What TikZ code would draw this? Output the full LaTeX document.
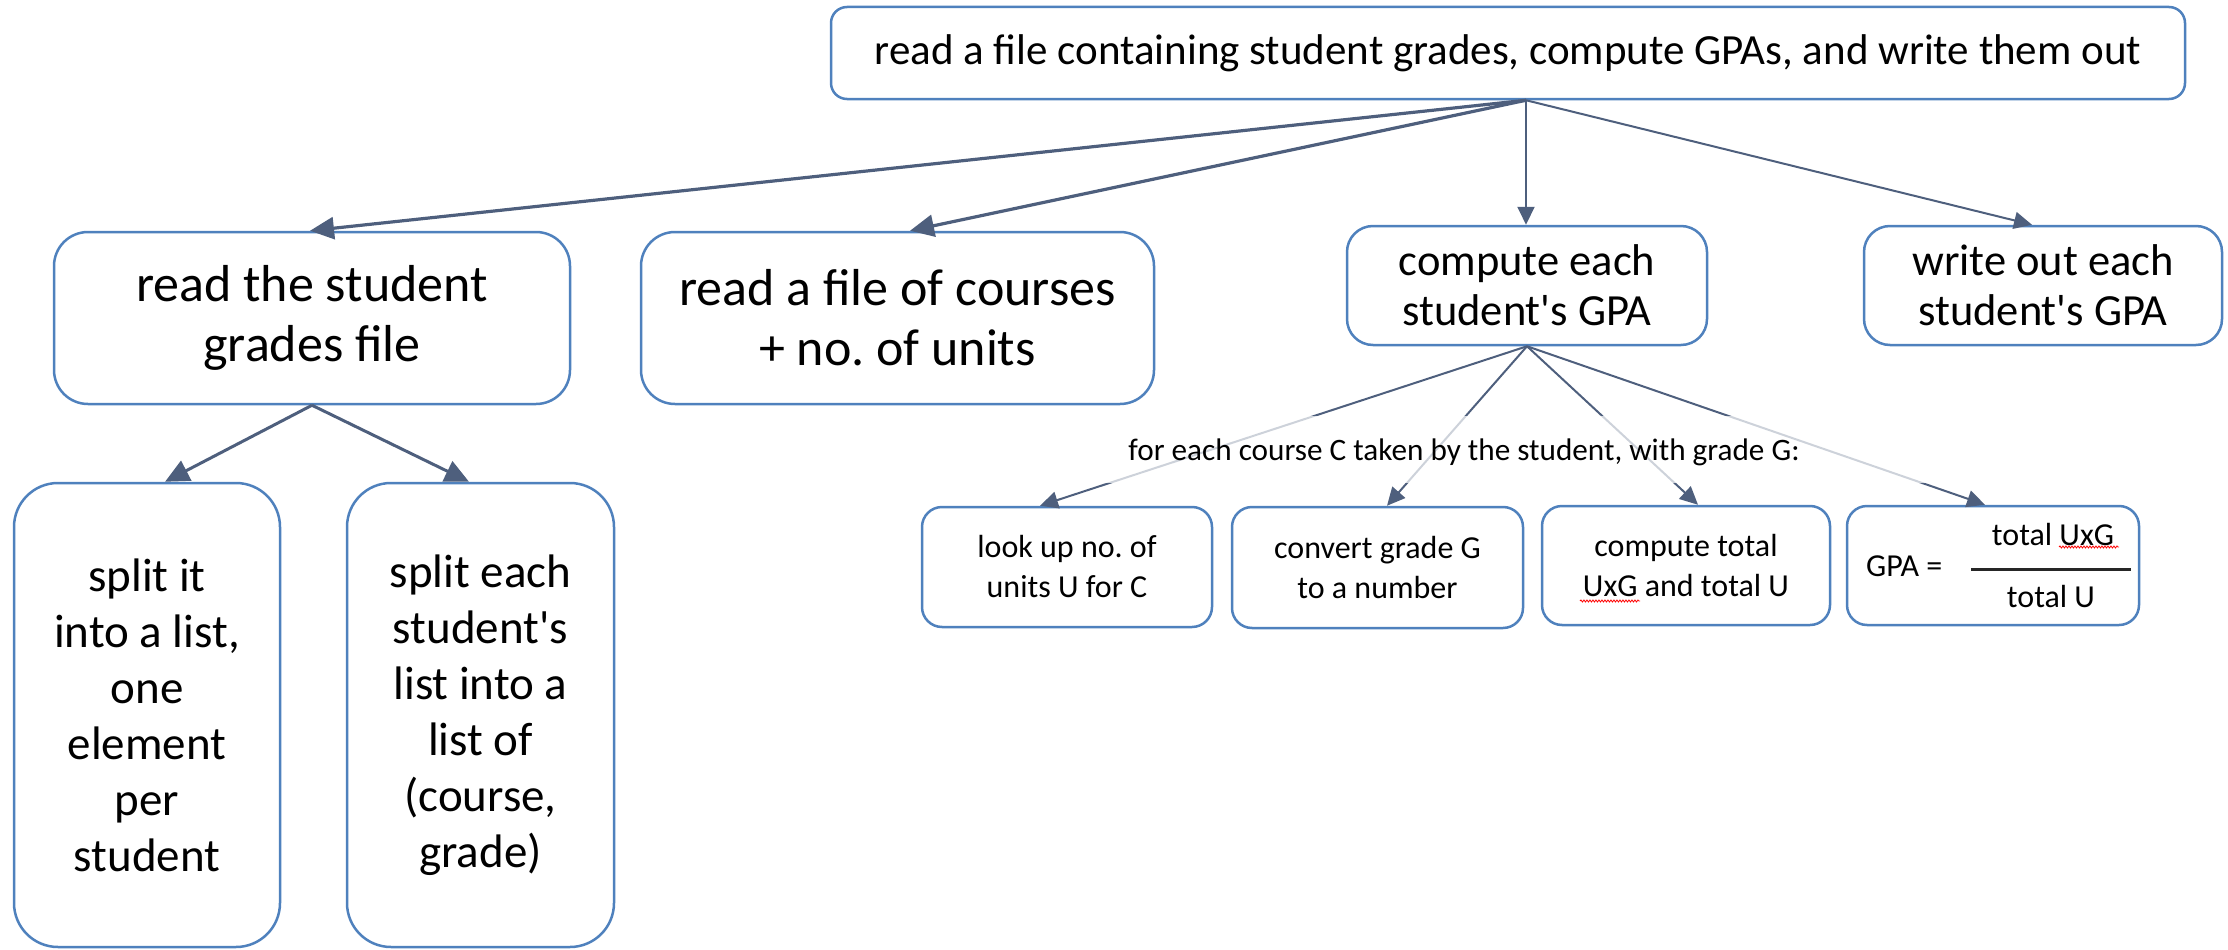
\documentclass[tikz,border=0pt]{standalone}
\usepackage{fontspec}
\setmainfont{Carlito}
\frenchspacing
\usetikzlibrary{arrows.meta,decorations.pathmorphing}
\definecolor{boxline}{HTML}{4F81BD}
\definecolor{connc}{HTML}{4E5F7D}
\newcommand{\apos}{\textquotesingle}
\begin{document}
\begin{tikzpicture}[x=1pt,y=-1pt,
  box/.style={draw=boxline, line width=2.5pt, fill=white, align=center, inner sep=0pt},
  bigtip/.style={-{Triangle[length=24pt,width=22pt]}},
  smalltip/.style={-{Triangle[length=18pt,width=17pt]}},
  conn/.style={draw=connc, line width=#1},
  txtA/.style={font=\fontsize{52}{60}\selectfont},
  txtC/.style={font=\fontsize{44.5}{50}\selectfont},
  txtE/.style={font=\fontsize{47}{56}\selectfont},
  txtS/.style={font=\fontsize{32}{40}\selectfont},
  spell/.style={draw=red, line width=0.8pt, decorate, decoration={snake, amplitude=1pt, segment length=3pt}}
]
\useasboundingbox (0,0) rectangle (2228,950);

% top task
\node[box, rounded corners=16pt, minimum width=1354pt, minimum height=92pt,
      font=\fontsize{43}{52}\selectfont] (top) at (1508,53)
  {read a file containing student grades, compute GPAs, and write them out};

% second level
\node[box, txtA, rounded corners=34pt, minimum width=516pt, minimum height=172pt] (A) at (312,318)
  {read the student\\grades file};
\node[box, txtA, rounded corners=34pt, minimum width=513pt, minimum height=172pt] (B) at (897.5,318)
  {read a file of courses\\+ no. of units};
\node[box, txtC, rounded corners=26pt, minimum width=360pt, minimum height=119pt] (C) at (1527,285.5)
  {compute each\\student\apos s GPA};
\node[box, txtC, rounded corners=26pt, minimum width=358pt, minimum height=119pt] (D) at (2043,285.5)
  {write out each\\student\apos s GPA};

% third level, left
\node[box, txtE, rounded corners=44pt, minimum width=266pt, minimum height=464pt] (E) at (147,715)
  {split it\\into a list,\\one\\element\\per\\student};
\node[box, txtE, rounded corners=44pt, minimum width=267pt, minimum height=464pt] (F) at (480.5,715)
  {split each\\student\apos s\\list into a\\list of\\(course,\\grade)};

% third level, right
\node[box, txtS, rounded corners=20pt, minimum width=290pt, minimum height=120pt] (G) at (1067,567)
  {look up no. of\\units U for C};
\node[box, txtS, rounded corners=20pt, minimum width=291pt, minimum height=121pt] (H) at (1377.5,567.5)
  {convert grade G\\to a number};
\node[box, txtS, rounded corners=20pt, minimum width=288pt, minimum height=119pt] (I) at (1686,565.5)
  {compute total\\UxG and total U};
\node[box, rounded corners=20pt, minimum width=292pt, minimum height=119pt] (J) at (1993,565.5) {};
\node[txtS, anchor=west, inner sep=0pt] (gpa) at (1866,566) {GPA =};
\node[txtS, inner sep=0pt] (num) at (2053,535) {total UxG};
\node[txtS, inner sep=0pt] (den) at (2051,597) {total U};
\draw[line width=3pt, black!85] (1971,569) -- (2131,569);

% connectors from the top task
\coordinate (hub) at (1526,0 |- top.south);
\draw[conn=3.2pt, bigtip] (hub) -- (310,0 |- A.north);
\draw[conn=3.2pt, bigtip] (hub) -- (910,0 |- B.north);
\draw[conn=2pt, smalltip] (hub) -- (1526,0 |- C.north);
\draw[conn=2pt, smalltip] (hub) -- (2032,0 |- D.north);

% connectors under the student grades file
\draw[conn=3pt, bigtip] (A.south) -- (165,0 |- E.north);
\draw[conn=3pt, bigtip] (A.south) -- (469,0 |- F.north);

% connectors under the GPA computation
\draw[conn=2pt, smalltip] (C.south) -- (1040,0 |- G.north);
\draw[conn=2pt, smalltip] (C.south) -- (1387,0 |- H.north);
\draw[conn=2pt, smalltip] (C.south) -- (1698,0 |- I.north);
\draw[conn=2pt, smalltip] (C.south) -- (1985,0 |- J.north);

% lighten the connectors where the caption crosses them
\fill[white, opacity=0.72] (1000,416) rectangle (2000,483);
\node[font=\fontsize{31.2}{37}\selectfont] (lbl) at (1464,452)
  {for each course C taken by the student, with grade G:};

% spell-check marks under UxG
\draw[spell] (2059,547) -- (2119,547);
\draw[spell] (1580,601) -- (1640,601);
\end{tikzpicture}
\end{document}
